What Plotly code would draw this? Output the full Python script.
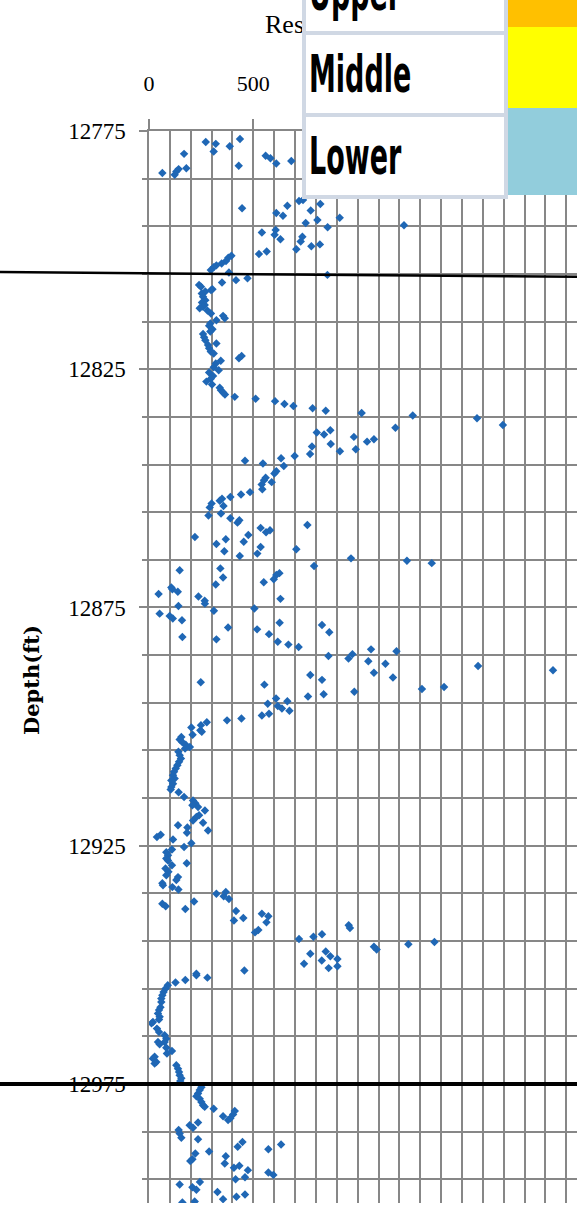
import plotly.graph_objects as go

# Resistivity log readings (ohm-m) and their depths (ft)
resistivity = [
    272, 436, 320, 387, 310, 168, 559, 582, 682, 610,
    430, 179, 142, 131, 64, 123, 446, 719, 738, 821,
    663, 775, 610, 642, 914, 807, 751, 1222, 856, 607,
    541, 602, 735, 630, 727, 819, 778, 706, 564, 527,
    395, 380, 369, 348, 323, 310, 296, 383, 855, 472,
    417, 350, 240, 249, 304, 297, 270, 253, 259, 270,
    254, 267, 259, 243, 280, 297, 355, 363, 323, 294,
    288, 304, 294, 259, 264, 270, 323, 283, 288, 296,
    310, 444, 431, 344, 320, 310, 334, 288, 307, 296,
    275, 302, 339, 345, 355, 364, 411, 511, 604, 649,
    692, 784, 847, 1019, 1264, 1572, 1696, 1181, 869, 804,
    839, 982, 1078, 1045, 871, 781, 991, 915, 772, 698,
    633, 460, 546, 646, 610, 601, 559, 551, 588, 540,
    543, 484, 441, 390, 350, 339, 300, 357, 291, 345,
    285, 390, 433, 424, 759, 535, 580, 561, 476, 220,
    368, 454, 323, 535, 706, 361, 519, 435, 968, 1236,
    1355, 791, 342, 147, 625, 610, 355, 598, 550, 320,
    107, 112, 138, 46, 237, 630, 267, 268, 141, 505,
    311, 51, 99, 114, 158, 626, 829, 379, 518, 864,
    575, 160, 323, 617, 668, 717, 1064, 1186, 975, 860,
    956, 1051, 1133, 1577, 1936, 1078, 773, 1169, 829, 248,
    553, 1414, 1308, 984, 837, 762, 609, 663, 569, 617,
    637, 673, 575, 541, 443, 374, 277, 249, 203, 246,
    253, 209, 155, 147, 160, 176, 196, 173, 141, 147,
    153, 144, 136, 128, 120, 115, 123, 107, 115, 107,
    104, 142, 168, 211, 222, 208, 235, 268, 240, 227,
    211, 259, 139, 184, 283, 182, 56, 38, 115, 203,
    168, 110, 83, 91, 83, 91, 181, 110, 79, 93,
    83, 139, 131, 64, 67, 112, 141, 368, 323, 358,
    383, 216, 64, 80, 174, 417, 541, 572, 452, 407,
    563, 957, 963, 524, 508, 829, 788, 719, 1368, 1243,
    1078, 1091, 847, 773, 869, 903, 828, 743, 903, 861,
    457, 227, 227, 280, 174, 127, 90, 80, 70, 64,
    59, 59, 55, 48, 43, 51, 48, 19, 12, 38,
    48, 75, 83, 75, 43, 51, 83, 110, 86, 27,
    19, 35, 27, 131, 139, 144, 147, 155, 150, 251,
    243, 235, 227, 243, 251, 259, 267, 310, 411, 403,
    355, 390, 379, 235, 195, 211, 142, 147, 155, 235,
    448, 425, 633, 572, 288, 222, 368, 208, 198, 363,
    433, 407, 474, 572, 596, 460, 415, 244, 147, 208,
    227, 328, 460, 419, 355, 219, 160,
]

depth = [
    12777.3, 12776.7, 12777.7, 12778.2, 12779.3, 12779.8, 12780.2, 12780.7, 12781.3, 12781.8,
    12782.3, 12782.8, 12783.0, 12783.5, 12783.8, 12784.2, 12791.2, 12789.7, 12789.5, 12790.3,
    12790.7, 12791.7, 12792.2, 12792.8, 12793.2, 12793.7, 12794.3, 12794.8, 12795.2, 12795.8,
    12796.3, 12796.8, 12797.2, 12797.7, 12798.2, 12798.8, 12799.2, 12799.8, 12800.3, 12800.8,
    12801.2, 12801.6, 12802.3, 12802.8, 12803.2, 12803.6, 12804.2, 12804.7, 12805.2, 12805.9,
    12806.3, 12806.8, 12807.3, 12807.7, 12808.2, 12808.4, 12808.7, 12809.1, 12809.8, 12810.5,
    12811.0, 12811.5, 12811.9, 12812.2, 12812.7, 12813.3, 12813.8, 12814.3, 12814.7, 12815.4,
    12815.9, 12816.6, 12817.1, 12817.6, 12818.3, 12818.9, 12819.6, 12819.9, 12820.6, 12821.3,
    12821.7, 12822.2, 12822.7, 12823.2, 12823.8, 12824.6, 12825.2, 12825.7, 12826.4, 12827.0,
    12827.6, 12828.2, 12828.9, 12829.4, 12829.9, 12830.3, 12830.8, 12831.2, 12831.7, 12832.3,
    12832.7, 12833.2, 12833.7, 12834.2, 12834.7, 12835.3, 12836.7, 12837.3, 12837.8, 12838.3,
    12838.7, 12839.2, 12839.7, 12840.2, 12840.7, 12841.2, 12841.8, 12842.2, 12842.8, 12843.2,
    12843.7, 12844.2, 12844.8, 12845.3, 12846.4, 12846.9, 12847.8, 12848.3, 12848.7, 12849.2,
    12850.2, 12850.8, 12851.3, 12851.8, 12852.2, 12852.6, 12853.2, 12853.7, 12854.0, 12855.3,
    12855.7, 12856.3, 12856.7, 12857.2, 12857.7, 12858.3, 12858.8, 12859.2, 12859.8, 12860.2,
    12860.7, 12861.2, 12861.7, 12862.3, 12862.8, 12863.2, 12863.7, 12864.2, 12864.7, 12865.2,
    12865.7, 12866.3, 12866.8, 12867.2, 12867.8, 12868.2, 12868.7, 12869.1, 12869.7, 12870.2,
    12870.8, 12871.2, 12871.7, 12872.2, 12872.7, 12873.2, 12873.6, 12874.2, 12874.7, 12875.2,
    12875.7, 12876.3, 12876.8, 12877.3, 12877.7, 12878.2, 12878.7, 12879.2, 12879.6, 12880.2,
    12880.6, 12881.2, 12881.7, 12882.2, 12882.8, 12883.3, 12883.8, 12884.2, 12884.8, 12885.2,
    12885.7, 12886.3, 12886.8, 12887.3, 12888.2, 12888.7, 12889.2, 12889.7, 12890.2, 12890.7,
    12891.2, 12891.7, 12892.1, 12892.7, 12893.2, 12893.7, 12894.1, 12894.7, 12895.2, 12895.7,
    12896.2, 12896.7, 12897.3, 12897.7, 12898.3, 12898.7, 12899.1, 12899.7, 12900.2, 12900.8,
    12901.1, 12901.7, 12902.2, 12902.7, 12903.3, 12903.8, 12904.3, 12904.6, 12905.3, 12906.0,
    12906.7, 12907.4, 12908.1, 12908.8, 12909.5, 12910.2, 12910.9, 12911.3, 12912.0, 12912.7,
    12913.2, 12913.8, 12914.8, 12915.5, 12916.1, 12916.5, 12916.9, 12917.6, 12918.6, 12919.0,
    12919.7, 12920.2, 12920.7, 12921.2, 12921.8, 12922.3, 12922.7, 12923.2, 12923.7, 12924.5,
    12925.3, 12925.8, 12926.4, 12927.0, 12927.7, 12928.1, 12928.7, 12929.1, 12929.8, 12930.5,
    12931.2, 12931.6, 12932.2, 12932.9, 12933.3, 12933.7, 12934.2, 12934.7, 12935.1, 12935.6,
    12936.2, 12936.7, 12937.2, 12937.7, 12938.3, 12938.7, 12939.3, 12939.8, 12940.2, 12940.7,
    12941.1, 12941.7, 12942.3, 12942.7, 12943.2, 12943.6, 12944.1, 12944.6, 12945.2, 12945.7,
    12946.2, 12946.8, 12947.2, 12947.7, 12948.2, 12948.8, 12949.1, 12949.8, 12950.3, 12950.7,
    12951.2, 12951.9, 12952.2, 12952.7, 12953.2, 12953.7, 12954.3, 12955.0, 12955.7, 12956.4,
    12957.1, 12957.8, 12958.9, 12959.5, 12960.2, 12960.9, 12961.5, 12962.0, 12962.3, 12963.4,
    12964.1, 12964.8, 12965.5, 12966.2, 12966.2, 12966.7, 12967.4, 12968.1, 12968.6, 12969.3,
    12969.7, 12970.4, 12970.7, 12971.1, 12971.8, 12972.5, 12973.2, 12973.8, 12974.4, 12975.7,
    12976.3, 12977.0, 12977.6, 12978.1, 12978.8, 12979.5, 12979.8, 12980.2, 12980.7, 12981.4,
    12981.8, 12982.2, 12982.6, 12983.1, 12983.7, 12984.2, 12984.7, 12985.4, 12986.3, 12986.6,
    12987.2, 12988.2, 12987.7, 12988.7, 12989.2, 12989.6, 12990.2, 12990.8, 12991.2, 12991.7,
    12992.2, 12992.6, 12993.1, 12993.6, 12994.1, 12994.6, 12995.0, 12995.6, 12996.1, 12996.7,
    12997.2, 12997.7, 12998.2, 12998.7, 12999.2, 12999.7, 12999.9,
]

assert len(resistivity) == len(depth)

# Zone boundaries (ft): top boundary dips slightly across the section
upper_boundary = (12804.6, 12805.6)
lower_boundary = 12975.0

zone_names = ["Upper", "Middle", "Lower"]
zone_colors = ["#FFC000", "#FFFF00", "#92CDDC"]

x_title = "Resistivity (ohm-m)"
y_title = "Depth(ft)"

W, H = 577, 1211
ML, MR, MT, MB = 149, 0, 131, 8
PW, PH = W - ML - MR, H - MT - MB
X_MAX = PW / 0.20867          # 100 ohm-m per grid column
GRID = "#878787"


def fx(p):
    return (p - ML) / PW


def fy(p):
    return 1 - (p - MT) / PH


fig = go.Figure()
fig.add_trace(go.Scatter(
    x=resistivity, y=depth, mode="markers",
    marker=dict(symbol="diamond", size=6.5, color="#1F67B5", line=dict(width=0)),
    showlegend=False, hoverinfo="x+y",
))

serif = "Liberation Serif, Times New Roman, serif"

fig.update_layout(
    width=W, height=H,
    margin=dict(l=ML, r=MR, t=MT, b=MB, autoexpand=False),
    paper_bgcolor="white", plot_bgcolor="white",
    font=dict(family=serif, color="black"),
    xaxis=dict(
        side="top", range=[0, X_MAX], tick0=0, dtick=500, tickformat="d",
        showgrid=True, gridcolor=GRID, gridwidth=1.5,
        zeroline=False, showline=True, linecolor=GRID, linewidth=1.5,
        ticks="outside", ticklen=10, tickwidth=1.5, tickcolor=GRID,
        ticklabelstandoff=19,
        tickfont=dict(family=serif, size=22, color="black"),
        minor=dict(dtick=100, showgrid=True, gridcolor=GRID, gridwidth=1.5),
    ),
    yaxis=dict(
        range=[13000, 12775], tick0=12775, dtick=50, tickformat="d",
        showgrid=True, gridcolor=GRID, gridwidth=1.5,
        zeroline=False, showline=True, linecolor=GRID, linewidth=1.5,
        ticks="outside", ticklen=8, tickwidth=1.5, tickcolor=GRID,
        ticklabelstandoff=9,
        tickfont=dict(family=serif, size=23, color="black"),
        minor=dict(dtick=10, tick0=12775, showgrid=True, gridcolor=GRID,
                   gridwidth=1.5, ticks="outside", ticklen=5, tickcolor=GRID),
    ),
)

# Zone boundary lines across the whole section
fig.add_shape(type="line", xref="paper", yref="y", x0=fx(0), x1=fx(W),
              y0=upper_boundary[0], y1=upper_boundary[1],
              line=dict(color="black", width=2.5), layer="above")
fig.add_shape(type="line", xref="paper", yref="y", x0=fx(0), x1=fx(W),
              y0=lower_boundary, y1=lower_boundary,
              line=dict(color="black", width=4), layer="above")

# Axis titles (the key table is drawn over the resistivity title)
annotations = [
    dict(text=x_title, xref="paper", yref="paper", x=fx(263), y=fy(24),
         xanchor="left", yanchor="middle", showarrow=False,
         font=dict(family=serif, size=26, color="black")),
    dict(text=y_title, xref="paper", yref="paper", x=fx(31), y=fy(680),
         xanchor="center", yanchor="middle", showarrow=False, textangle=-90,
         font=dict(family="DejaVu Serif, serif", size=21, color="black",
                   weight="bold")),
]

# Zone key: label cells with a colour swatch to the right
row_top = [-55, 27, 109]
row_h = 86
cell_left, swatch_left = 302, 508
swatch_edges = [-60, 27, 108, 195]
BW, BP = 4, 3
for i, name in enumerate(zone_names):
    annotations.append(dict(
        text=name, xref="paper", yref="paper",
        x=fx(cell_left), y=fy(row_top[i]), xanchor="left", yanchor="top",
        width=swatch_left - cell_left - 2 * (BW + BP),
        height=row_h - 2 * (BW + BP),
        align="left", valign="middle", showarrow=False, yshift=-4,
        bgcolor="white", bordercolor="#D0D8E4", borderwidth=BW, borderpad=BP,
        font=dict(family="Liberation Sans Narrow, DejaVu Sans Condensed, Arial Narrow, sans-serif",
                  size=30, color="black", weight="bold"),
    ))
    fig.add_shape(type="rect", xref="paper", yref="paper",
                  x0=fx(swatch_left), x1=fx(W + 40),
                  y0=fy(swatch_edges[i + 1]), y1=fy(swatch_edges[i]),
                  fillcolor=zone_colors[i], line=dict(width=0), layer="above")

fig.update_layout(annotations=annotations)

# Tall, narrow lettering for the zone key
post = """
var gd = document.getElementById('{plot_id}');
gd.querySelectorAll('g.annotation text.annotation-text').forEach(function(t){
  if (['Upper','Middle','Lower'].indexOf(t.textContent.trim()) < 0) return;
  var b = t.getBBox();
  var cy = b.y + b.height / 2;
  t.setAttribute('transform', 'translate(0,' + cy + ') scale(1,1.7) translate(0,' + (-cy) + ')');
});
"""

fig.write_html("out.html", post_script=post)
